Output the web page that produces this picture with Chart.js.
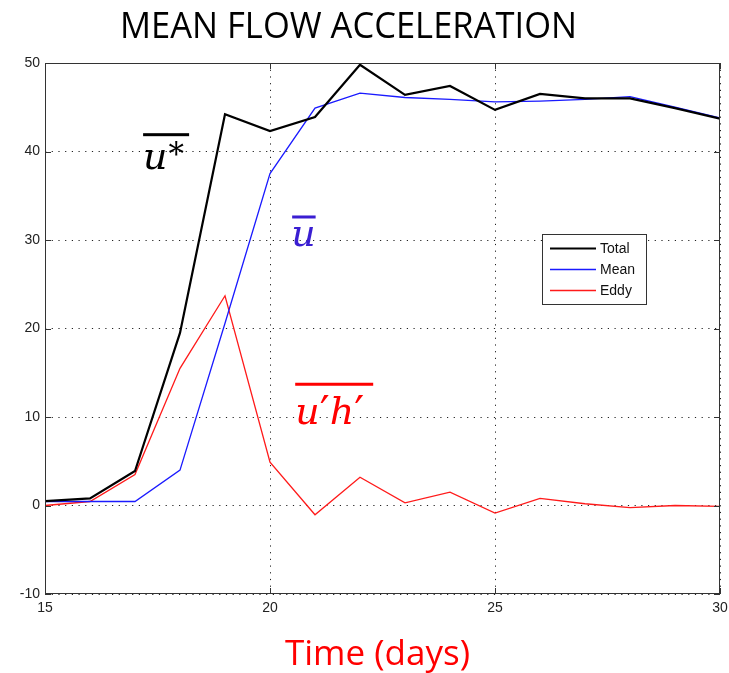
<!DOCTYPE html>
<html>
<head>
<meta charset="utf-8">
<script src="https://cdn.jsdelivr.net/npm/chart.js@4.4.1/dist/chart.umd.min.js"></script>
<style>
  html, body { margin: 0; padding: 0; background: #fff; }
  #wrap { width: 729px; height: 673px; }
</style>
</head>
<body>
<div id="wrap"><canvas id="c" width="729" height="673"></canvas></div>
<script>
// Time axis (days)
const days = [15, 16, 17, 18, 19, 20, 21, 22, 23, 24, 25, 26, 27, 28, 29, 30];

// Mean flow acceleration terms
const totalAccel = [0.5, 0.8, 3.9, 19.5, 44.2, 42.3, 43.9, 49.8, 46.4, 47.4, 44.7, 46.5, 46.0, 46.0, 44.9, 43.7];
const meanAccel  = [0.45, 0.45, 0.45, 4.0, 20.6, 37.5, 44.9, 46.6, 46.1, 45.9, 45.6, 45.7, 45.9, 46.2, 45.0, 43.8];
const eddyAccel  = [0.0, 0.45, 3.5, 15.5, 23.7, 4.9, -1.05, 3.2, 0.3, 1.5, -0.85, 0.8, 0.2, -0.25, 0.0, -0.1];

const xTicks = [15, 20, 25, 30];
const yTicks = [-10, 0, 10, 20, 30, 40, 50];

const seriesNames = ['Total', 'Mean', 'Eddy'];
const chartTitle = 'MEAN FLOW ACCELERATION';
const xTitle = 'Time (days)';

const toPoints = vals => days.map((d, i) => ({ x: d, y: vals[i] }));

// Box, inward tick marks, titles, term labels and legend
const decorations = {
  id: 'decorations',
  afterDraw(chart) {
    const ctx = chart.ctx;
    const a = chart.chartArea;
    const xs = chart.scales.x, ys = chart.scales.y;
    ctx.save();

    // axes box
    ctx.strokeStyle = '#333';
    ctx.lineWidth = 1;
    ctx.strokeRect(Math.round(a.left) + 0.5, Math.round(a.top) + 0.5,
                   Math.round(a.right - a.left) - 1, Math.round(a.bottom - a.top) - 1);

    // inward tick marks on all four sides
    const tl = 6;
    ctx.beginPath();
    yTicks.forEach(v => {
      const y = Math.round(ys.getPixelForValue(v)) + 0.5;
      ctx.moveTo(a.left, y); ctx.lineTo(a.left + tl, y);
      ctx.moveTo(a.right, y); ctx.lineTo(a.right - tl, y);
    });
    xTicks.forEach(v => {
      const x = Math.round(xs.getPixelForValue(v)) + 0.5;
      ctx.moveTo(x, a.bottom); ctx.lineTo(x, a.bottom - tl);
      ctx.moveTo(x, a.top); ctx.lineTo(x, a.top + tl);
    });
    ctx.stroke();

    // titles, stretched to their set widths
    const fitText = (txt, font, color, left, baseline, width) => {
      ctx.font = font;
      ctx.fillStyle = color;
      ctx.textAlign = 'left';
      ctx.textBaseline = 'alphabetic';
      const w = ctx.measureText(txt).width;
      ctx.save();
      ctx.translate(left, baseline);
      ctx.scale(width / w, 1);
      ctx.fillText(txt, 0, 0);
      ctx.restore();
    };
    fitText(chartTitle, '36px "Open Sans"', '#000', 120, 38, 457);
    fitText(xTitle, '34px "Open Sans"', '#ff0000', 285, 665, 185);

    // overlined math labels, anchored in data units
    const serif = 'italic 38px "DejaVu Serif"';
    const star = 'italic 31px "DejaVu Serif"';
    const prime = '44px "DejaVu Sans"';
    ctx.textAlign = 'left';
    ctx.textBaseline = 'alphabetic';

    // total: u with a raised asterisk, overlined
    let x0 = xs.getPixelForValue(17.18), y0 = ys.getPixelForValue(38.0);
    ctx.fillStyle = '#000';
    ctx.font = serif;
    ctx.fillText('u', x0, y0);
    let wu = ctx.measureText('u').width;
    ctx.font = star;
    ctx.fillText('*', x0 + wu + 1, y0 - 4);
    let wa = ctx.measureText('*').width;
    let yb = ys.getPixelForValue(41.9);
    ctx.fillRect(x0, yb - 1.5, Math.max(wu + wa + 3, 46), 3);

    // mean: u with a bar
    x0 = xs.getPixelForValue(20.47); y0 = ys.getPixelForValue(29.3);
    ctx.fillStyle = '#3a1ed2';
    ctx.font = serif;
    ctx.fillText('u', x0, y0);
    wu = ctx.measureText('u').width;
    yb = ys.getPixelForValue(32.6);
    ctx.fillRect(x0 + 1, yb - 1.5, wu - 1, 3);

    // eddy: u'h' overlined
    x0 = xs.getPixelForValue(20.56); y0 = ys.getPixelForValue(9.2);
    ctx.fillStyle = '#ff0000';
    let cx = x0;
    [['u', serif, 0], ['\u2032', prime, 4], ['h', serif, 0], ['\u2032', prime, 4]].forEach(([g, f, dy]) => {
      ctx.font = f;
      ctx.fillText(g, cx, y0 + dy);
      cx += ctx.measureText(g).width;
    });
    yb = ys.getPixelForValue(13.7);
    ctx.fillRect(x0, yb - 1.5, Math.max(cx - x0, 78), 3);

    // legend box
    const lx = 542, ly = 234, lw = 104, lh = 70;
    ctx.fillStyle = '#fff';
    ctx.fillRect(lx, ly, lw, lh);
    ctx.strokeStyle = '#333';
    ctx.lineWidth = 1;
    ctx.strokeRect(lx + 0.5, ly + 0.5, lw, lh);
    ctx.font = '14px "Liberation Sans"';
    ctx.textAlign = 'left';
    ctx.textBaseline = 'middle';
    chart.data.datasets.forEach((ds, i) => {
      const yy = ly + 14.5 + i * 21;
      ctx.strokeStyle = ds.borderColor;
      ctx.lineWidth = ds.borderWidth;
      ctx.beginPath();
      ctx.moveTo(550, yy); ctx.lineTo(596, yy);
      ctx.stroke();
      ctx.fillStyle = '#111';
      ctx.fillText(ds.label, 600, yy + 1);
    });

    ctx.restore();
  }
};

new Chart(document.getElementById('c'), {
  type: 'line',
  data: {
    datasets: [
      { label: seriesNames[0], data: toPoints(totalAccel), borderColor: '#000000', borderWidth: 2.2 },
      { label: seriesNames[1], data: toPoints(meanAccel),  borderColor: '#1a1aff', borderWidth: 1.3 },
      { label: seriesNames[2], data: toPoints(eddyAccel),  borderColor: '#ff1a1a', borderWidth: 1.3 }
    ]
  },
  options: {
    responsive: false,
    animation: false,
    devicePixelRatio: 1,
    layout: { padding: { top: 63, right: 9, left: 0, bottom: 0 } },
    elements: { point: { radius: 0 }, line: { tension: 0 } },
    plugins: { legend: { display: false }, tooltip: { enabled: false }, title: { display: false } },
    scales: {
      x: {
        type: 'linear', min: 15, max: 30,
        afterBuildTicks: s => { s.ticks = xTicks.map(v => ({ value: v })); },
        afterFit: s => { s.height = 79; s.paddingLeft = 0; s.paddingRight = 0; },
        grid: { color: '#222', lineWidth: 1, drawTicks: false },
        border: { display: false, dash: [1.2, 5.5] },
        ticks: { padding: 6, color: '#222', font: { family: '"Liberation Sans"', size: 14 }, maxRotation: 0 }
      },
      y: {
        type: 'linear', min: -10, max: 50,
        afterBuildTicks: s => { s.ticks = yTicks.map(v => ({ value: v })); },
        afterFit: s => { s.width = 45; s.paddingTop = 0; s.paddingBottom = 0; },
        grid: { color: '#222', lineWidth: 1, drawTicks: false },
        border: { display: false, dash: [1.2, 5.5] },
        ticks: { padding: 5, color: '#222', font: { family: '"Liberation Sans"', size: 14 } }
      }
    }
  },
  plugins: [decorations]
});
</script>
</body>
</html>
